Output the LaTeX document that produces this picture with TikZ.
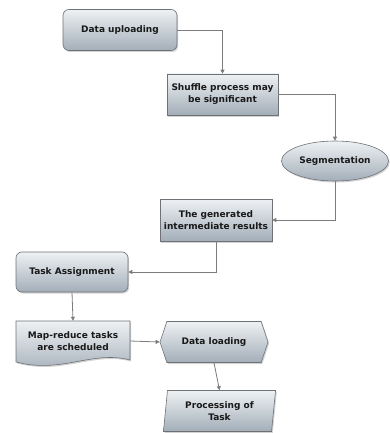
\documentclass[tikz,border=0pt]{standalone}
\usepackage{fontspec}
\setmainfont{DejaVu Sans}
\usetikzlibrary{shapes.geometric,shapes.symbols,shadows,arrows.meta}
\definecolor{boxtop}{HTML}{EEF1F3}
\definecolor{boxbot}{HTML}{A3AEB9}
\definecolor{boxline}{HTML}{6E7276}
\definecolor{flowline}{HTML}{7C7C7C}
\begin{document}
\begin{tikzpicture}[x=1pt,y=-1pt,
    boxtext/.style={align=center, font=\fontsize{9}{12}\selectfont\bfseries, text=black!90},
    box/.style={boxtext, draw=boxline, line width=0.6pt, top color=boxtop, bottom color=boxbot,
      drop shadow={shadow xshift=1.2pt, shadow yshift=-1.5pt, opacity=0.35},
      minimum height=41pt, inner sep=2pt},
    flow/.style={draw=flowline, line width=0.8pt, -{Triangle[length=4pt,width=4pt]}}]

  \useasboundingbox (0,0) rectangle (390,433);

  \begin{scope}   % flow chart boxes

    \node[box, rounded corners=6pt, minimum width=114pt] (upload) at (120,30) {Data uploading};
    \node[box, minimum width=111pt] (shuffle) at (222.5,94.5) {Shuffle process may\\be significant};
    \node[box, ellipse, minimum width=107pt, minimum height=40pt] (segment) at (335,161) {Segmentation};
    \node[box, minimum width=112pt, minimum height=42pt] (generated) at (216,220) {The generated\\intermediate results};
    \node[box, rounded corners=6pt, minimum width=112pt, minimum height=40pt] (task) at (72,272) {Task Assignment};

    \path[box] (16,321) -- (130,321) -- (130,360)
        .. controls (92,350) and (62,374) .. (16,362) -- cycle;
    \node[boxtext, minimum width=114pt, minimum height=40pt] (mapred) at (73,341) {Map-reduce tasks\\are scheduled};

    \node[box, signal, signal to=east and west, signal pointer angle=143,
        minimum width=108pt] (loading) at (214,342) {Data loading};
    \node[box, trapezium, trapezium left angle=83, trapezium right angle=97,
        trapezium stretches=true, minimum width=113pt] (process) at (219.5,411) {Processing of\\Task};

  \end{scope}

  \draw[flow] (upload.east) -| (shuffle.north);
  \draw[flow] (shuffle.east) -| (segment.north);
  \draw[flow] (segment.south) |- (generated.east);
  \draw[flow] (generated.south) |- (task.east);
  \draw[flow] (task.south) -- (mapred.north);
  \draw[flow] (mapred.east) -- (loading.west);
  \draw[flow] (loading.south) -- (process.north);

\end{tikzpicture}
\end{document}
